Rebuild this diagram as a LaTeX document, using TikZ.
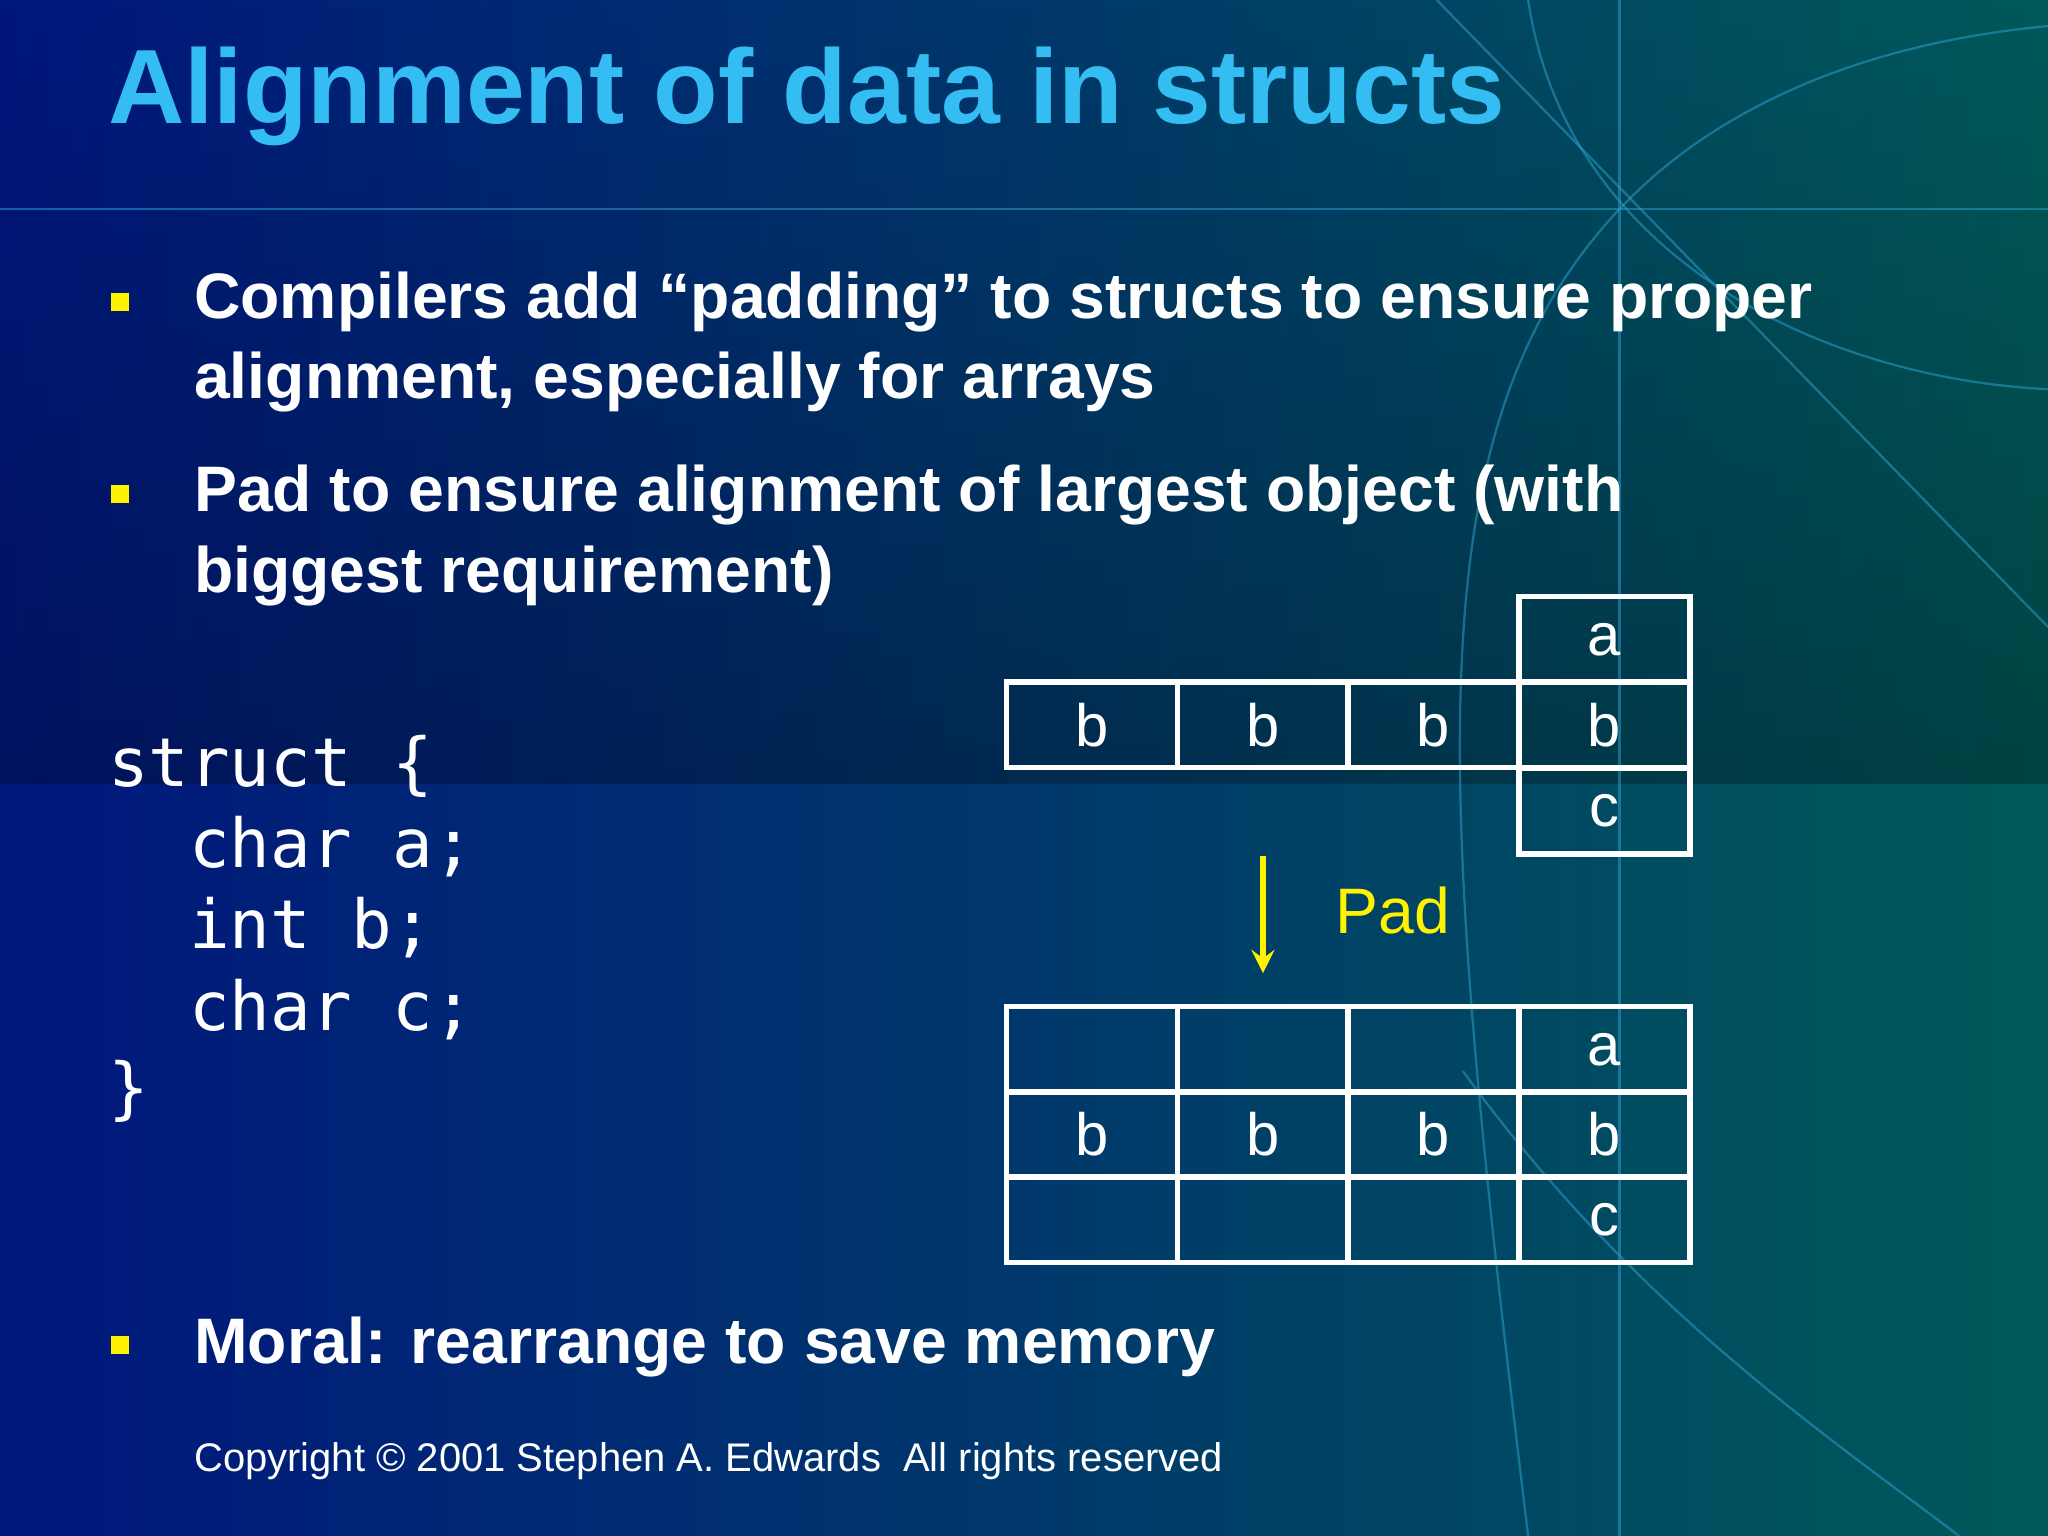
\documentclass[tikz,border=0pt]{standalone}
\usepackage{fontspec}
\usetikzlibrary{fadings}
\setmainfont{Liberation Sans}
\setmonofont{DejaVu Sans Mono}
\begin{document}
\begin{tikzpicture}[x=0.01cm,y=-0.01cm,
  cell/.style={draw=white,line width=1.2pt,minimum width=1.31cm,minimum height=0.655cm,inner sep=0,text=white,font=\fontsize{13}{13}\selectfont},
  bul/.style={fill=yellow,minimum size=0.14cm,inner sep=0},
  btxt/.style={anchor=west,text=white,font=\bfseries\fontsize{14}{17.5}\selectfont,align=left,inner sep=0},
  deco/.style={draw=cyan!60!teal,line width=0.5pt,opacity=0.55}]
\useasboundingbox (0,0) rectangle (1568,1176);
\shade[left color=black!85!cyan!60!blue,right color=teal!70!black] (0,0) rectangle (1568,1176);
\fill[black,opacity=0.25,path fading=north] (0,0) rectangle (1568,600);
% decorative lines
\draw[deco] (0,160) -- (1568,160);
\draw[deco] (1240,0) -- (1240,1176);
\draw[deco] (1100,0) -- (1568,480);
\draw[deco] (1568,20) .. controls (1350,40) and (1260,140) .. (1240,160);
\draw[deco] (1170,0) .. controls (1200,200) and (1400,290) .. (1568,298);
\draw[deco] (1240,160) .. controls (1080,330) and (1100,600) .. (1170,1176);
\draw[deco] (1120,820) .. controls (1250,1000) and (1400,1100) .. (1500,1176);
\node[anchor=west,text=cyan!80!white,font=\bfseries\fontsize{23}{23}\selectfont,inner sep=0] (title) at (82,74) {Alignment of data in structs};
\node[bul] (b1) at (92,231) {};
\node[btxt] (t1) at (148,262) {Compilers add “padding” to structs to ensure proper\\alignment, especially for arrays};
\node[bul] (b2) at (92,378) {};
\node[btxt] (t2) at (148,410) {Pad to ensure alignment of largest object (with\\biggest requirement)};
\node[bul] (b3) at (92,1030) {};
\node[btxt] (t3) at (148,1031) {Moral: rearrange to save memory};
\node[anchor=north west,text=white,font=\ttfamily\fontsize{14.7}{17.7}\selectfont,align=left,inner sep=0] (code) at (82,562)
{struct \{\\\ \ char a;\\\ \ int b;\\\ \ char c;\\\}};
\node[anchor=west,text=white,font=\fontsize{8.7}{9}\selectfont,inner sep=0] (copy) at (148,1119) {Copyright © 2001 Stephen A. Edwards\ \ All rights reserved};
% top table
\node[cell] (ta) at (1228.5,489.5) {a};
\node[cell] (tb1) at (836,555) {b};
\node[cell] (tb2) at (967,555) {b};
\node[cell] (tb3) at (1097.5,555) {b};
\node[cell] (tb4) at (1228.5,555) {b};
\node[cell] (tc) at (1228.5,621) {c};
% bottom table
\foreach \x/\n in {836/1,967/2,1097.5/3,1228.5/4}{
  \node[cell] (p\n) at (\x,803.5) {};
  \node[cell] (q\n) at (\x,868.5) {b};
  \node[cell] (r\n) at (\x,934) {};
}
\node[text=white,font=\fontsize{13}{13}\selectfont] at (p4) {a};
\node[text=white,font=\fontsize{13}{13}\selectfont] at (r4) {c};
\coordinate (as) at (967,655);
\coordinate (ae) at (967,745);
\draw[yellow,line width=1.2pt,-stealth] (as) -- (ae);
\node[text=yellow,font=\fontsize{14}{14}\selectfont,anchor=west,inner sep=0] (pad) at (1022,697) {Pad};
\end{tikzpicture}
\end{document}
